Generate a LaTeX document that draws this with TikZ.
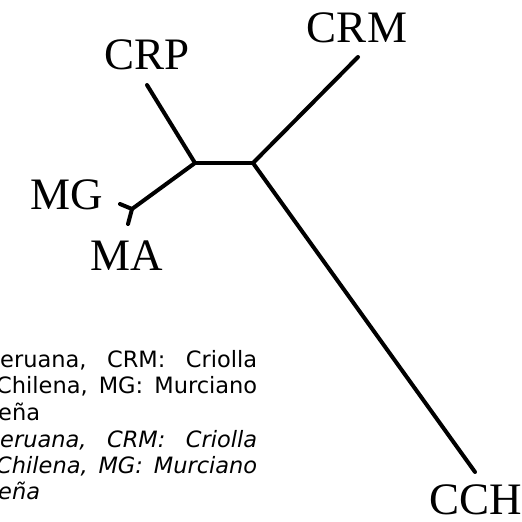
\documentclass[tikz,border=0pt]{standalone}
\usepackage{fontspec}
\setmainfont{Liberation Serif}
\newfontfamily\capfont{DejaVu Sans}
\begin{document}
\begin{tikzpicture}[x=1pt,y=-1pt,
  branch/.style={line width=4pt, line cap=round, line join=round},
  lab/.style={font=\fontsize{45}{45}\selectfont, inner sep=0pt},
  captxt/.style={font=\capfont\fontsize{22.5}{22.5}\selectfont, inner sep=0pt, anchor=base west},
  capit/.style={captxt, font=\capfont\itshape\fontsize{22.5}{22.5}\selectfont}]
\useasboundingbox (0,0) rectangle (522,522);
\clip (0,0) rectangle (522,522);
% internal nodes and tips
\coordinate (A) at (195,163);
\coordinate (B) at (253,163);
\coordinate (J) at (132,209);
\coordinate (tCRP) at (147,85);
\coordinate (tCRM) at (358,57);
\coordinate (tCCH) at (475,472);
\coordinate (tMG) at (120,204);
\coordinate (tMA) at (128,224);
% labels
\node[lab] (CRP) at (147,55) {CRP};
\node[lab] (CRM) at (357,28) {CRM};
\node[lab] (MG) at (67,195) {MG};
\node[lab] (MA) at (127,256) {MA};
\node[lab] (CCH) at (476,500) {CCH};
% branches
\draw[branch] (tCRP) -- (A);
\draw[branch] (A) -- (B);
\draw[branch] (B) -- (tCRM);
\draw[branch] (B) -- (tCCH);
\draw[branch] (A) -- (J);
\draw[branch] (J) -- (tMG);
\draw[branch] (J) -- (tMA);
% caption
\node[captxt] (c1) at (0,367) {\hbox to 257pt{eruana,\hfill CRM:\hfill Criolla}};
\node[captxt] (c2) at (-4,393) {\hbox to 261pt{Chilena,\hfill MG:\hfill Murciano}};
\node[captxt] (c3) at (-2,420) {eña};
\node[capit] (c4) at (0,447) {\hbox to 257pt{eruana,\hfill CRM:\hfill Criolla}};
\node[capit] (c5) at (-4,473) {\hbox to 261pt{Chilena,\hfill MG:\hfill Murciano}};
\node[capit] (c6) at (-2,499) {eña};
\end{tikzpicture}
\end{document}
